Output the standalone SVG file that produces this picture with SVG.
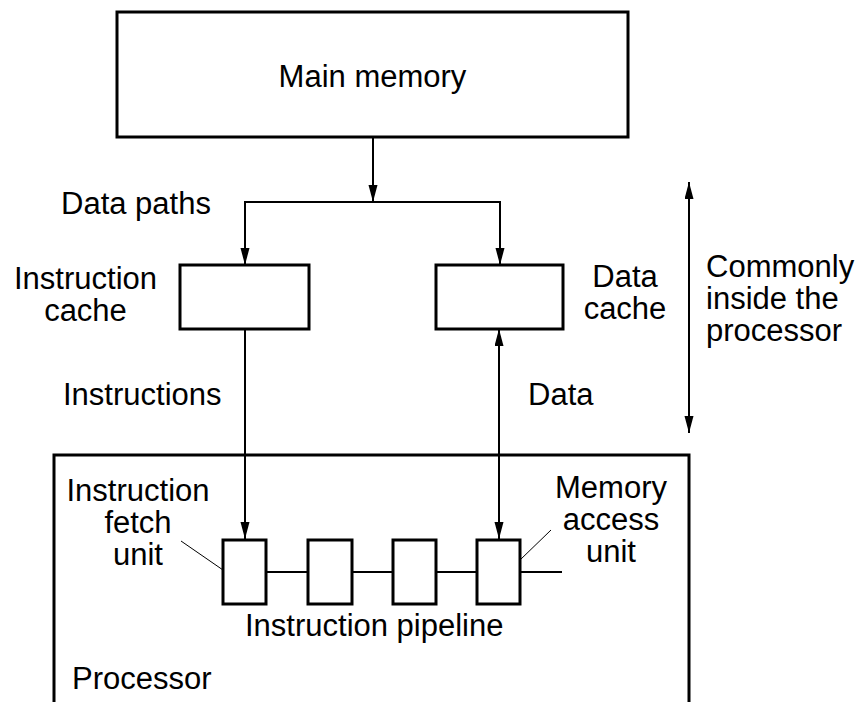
<svg xmlns="http://www.w3.org/2000/svg" width="863" height="702" viewBox="0 0 863 702">
<style>
text{font-family:"Liberation Sans",Arial,sans-serif;font-size:31px;fill:#000}
.box{fill:#fff;stroke:#000;stroke-width:3}
.c{fill:none;stroke:#000;stroke-width:2}
.thin{fill:none;stroke:#000;stroke-width:1}
.m{text-anchor:middle}
</style>
<defs>
<marker id="ah" markerUnits="userSpaceOnUse" markerWidth="18" markerHeight="10" refX="17" refY="4.5" orient="auto-start-reverse">
<path d="M0,0 L17,4.5 L0,9 z" fill="#000"/>
</marker>
</defs>
<g id="connectors">
<line class="c" x1="373" y1="137" x2="373" y2="202" marker-end="url(#ah)"/>
<polyline class="c" points="245,265 245,202 500,202 500,265"/>
<line class="c" x1="245" y1="210" x2="245" y2="265" marker-end="url(#ah)"/>
<line class="c" x1="500" y1="210" x2="500" y2="265" marker-end="url(#ah)"/>
<line class="c" x1="245" y1="329" x2="245" y2="539" marker-end="url(#ah)"/>
<line class="c" x1="499" y1="329" x2="499" y2="539" marker-start="url(#ah)" marker-end="url(#ah)"/>
<line class="c" x1="689" y1="182" x2="689" y2="433" marker-start="url(#ah)" marker-end="url(#ah)"/>
<line class="c" x1="266" y1="572" x2="308" y2="572"/>
<line class="c" x1="352" y1="572" x2="393" y2="572"/>
<line class="c" x1="436" y1="572" x2="477" y2="572"/>
<line class="c" x1="520" y1="572" x2="562" y2="572"/>
<line class="thin" x1="181" y1="541" x2="223" y2="570"/>
<line class="thin" x1="551" y1="530" x2="520" y2="560"/>
</g>
<g id="main-memory">
<rect class="box" x="117" y="12" width="511" height="125"/>
<text x="372.5" y="87" class="m">Main memory</text>
</g>
<g id="data-paths-label"><text x="61" y="214">Data paths</text></g>
<g id="instruction-cache">
<rect class="box" x="180" y="265" width="129" height="64"/>
<text x="85.5" y="289" class="m">Instruction</text>
<text x="85.5" y="321" class="m">cache</text>
</g>
<g id="data-cache">
<rect class="box" x="436" y="265" width="127" height="64"/>
<text x="625" y="287" class="m">Data</text>
<text x="625" y="319" class="m">cache</text>
</g>
<g id="commonly-label">
<text x="706" y="277">Commonly</text>
<text x="706" y="309">inside the</text>
<text x="706" y="341">processor</text>
</g>
<g id="instructions-label"><text x="63" y="405">Instructions</text></g>
<g id="data-label"><text x="528" y="405">Data</text></g>
<g id="processor">
<path d="M54,702 L54,455 L689,455 L689,702" fill="none" stroke="#000" stroke-width="3"/>
<text x="72" y="689">Processor</text>
</g>
<g id="fetch-unit">
<rect class="box" x="223" y="540" width="43" height="64"/>
<text x="138" y="501" class="m">Instruction</text>
<text x="138" y="533" class="m">fetch</text>
<text x="138" y="565" class="m">unit</text>
</g>
<g id="stage-2"><rect class="box" x="308" y="540" width="44" height="64"/></g>
<g id="stage-3"><rect class="box" x="393" y="540" width="43" height="64"/></g>
<g id="memory-access-unit">
<rect class="box" x="477" y="540" width="43" height="64"/>
<text x="611" y="498" class="m">Memory</text>
<text x="611" y="530" class="m">access</text>
<text x="611" y="562" class="m">unit</text>
</g>
<g id="pipeline-label"><text x="245" y="636">Instruction pipeline</text></g>
</svg>
